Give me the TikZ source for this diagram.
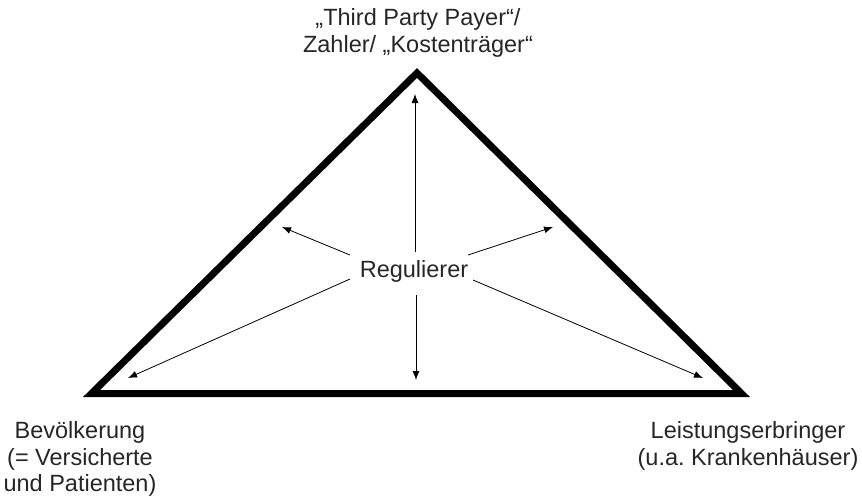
\documentclass[tikz,border=0pt]{standalone}
\usepackage{fontspec}
\setmainfont{Liberation Sans}
\usetikzlibrary{arrows.meta}
\frenchspacing
\begin{document}
\begin{tikzpicture}[x=1pt,y=-1pt,
  lbl/.style={align=center,inner sep=0pt,font=\fontsize{23.5}{26.5}\selectfont,text=black!85},
  tri/.style={line width=7pt,line join=miter},
  arr/.style={line width=0.8pt,-{Latex[length=9pt,width=7pt]}}]
\useasboundingbox (0,0) rectangle (862,501);
\coordinate (A) at (417,73);
\coordinate (B) at (91.5,393.5);
\coordinate (C) at (741.5,393.5);
\draw[tri] (A) -- (B) -- (C) -- cycle;
\node[lbl] (top) at (418,33) {„Third Party Payer“/\\Zahler/ „Kostenträger“};
\node[lbl] (left) at (80,459) {Bevölkerung\\(= Versicherte\\und Patienten)};
\node[lbl] (right) at (748,446) {Leistungserbringer\\(u.a. Krankenhäuser)};
\node[lbl] (reg) at (414,271) {Regulierer};
\coordinate (s1) at (415,252); \coordinate (e1) at (415,94);
\coordinate (s2) at (350,255); \coordinate (e2) at (282,227);
\coordinate (s3) at (468,255); \coordinate (e3) at (553,227);
\coordinate (s4) at (350,279); \coordinate (e4) at (128,378);
\coordinate (s5) at (473,280); \coordinate (e5) at (703,378);
\coordinate (s6) at (416,295); \coordinate (e6) at (416,380);
\foreach \i in {1,...,6} {\draw[arr] (s\i) -- (e\i);}
\end{tikzpicture}
\end{document}
